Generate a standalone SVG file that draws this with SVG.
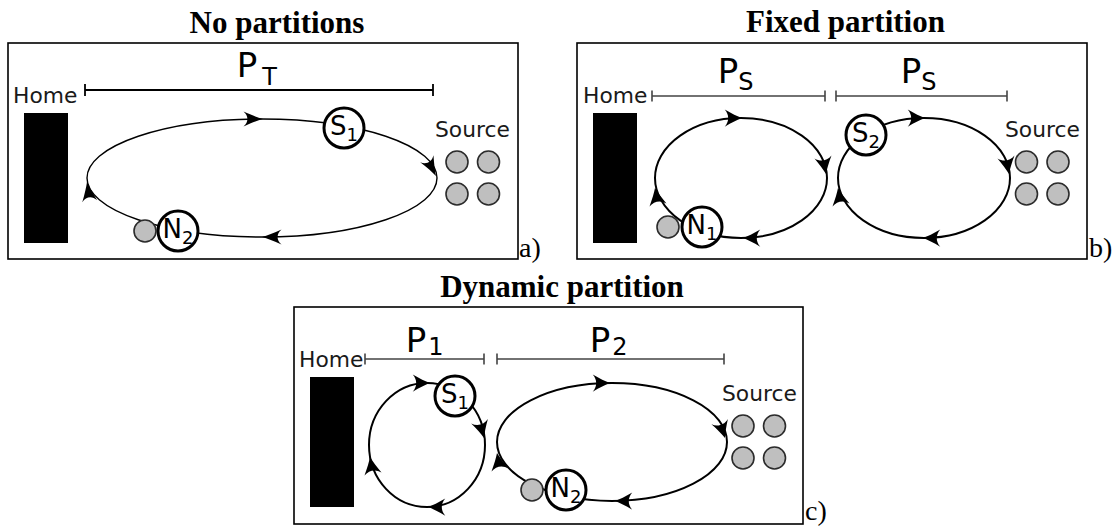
<svg xmlns="http://www.w3.org/2000/svg" xmlns:xlink="http://www.w3.org/1999/xlink" width="1113" height="526" viewBox="0 0 1113 526">
<defs>
<style>
.frame{fill:none;stroke:#000;stroke-width:1.6}
.title{font-family:"Liberation Serif","DejaVu Serif",serif;font-weight:bold;font-size:31px;fill:#000;text-anchor:middle}
.tag{font-family:"Liberation Serif","DejaVu Serif",serif;font-size:28px;fill:#000}
.lbl{font-family:"DejaVu Sans","Liberation Sans",sans-serif;font-size:21.8px;fill:#1a1a1a}
.pl{font-family:"DejaVu Sans","Liberation Sans",sans-serif;font-size:34px;fill:#000}
.sub{font-size:24px}
.home{fill:#000}
.loop{fill:none;stroke:#000;stroke-width:2}
.loopa{fill:none;stroke:#000;stroke-width:1.4}
.bar{fill:none;stroke:#444;stroke-width:1.6}
.bara{fill:none;stroke:#000;stroke-width:1.8}
.agent{fill:#fff;stroke:#000;stroke-width:3}
.at{font-family:"DejaVu Sans","Liberation Sans",sans-serif;font-size:26px;fill:#000;text-anchor:middle}
.as{font-size:18px}
.grain{fill:#bfbfbf;stroke:#2b2b2b;stroke-width:1.6}
</style>
<path id="ah" d="M0,0 C-4,-1.5 -9,-4 -15,-7.5 C-11,-3 -11,3 -15,7.5 C-9,4 -4,1.5 0,0 Z" fill="#000"/>
</defs>

<!-- Panel a -->
<g id="panel-a">
<text class="title" x="277" y="33">No partitions</text>
<rect class="frame" x="8" y="43" width="510" height="216"/>
<text class="tag" x="519" y="257">a)</text>
<text class="lbl" x="13" y="103">Home</text>
<rect class="home" x="24" y="113" width="44" height="130"/>
<path class="bara" d="M85,90 H433 M85,84 V96 M433,84 V96"/>
<text class="pl" x="236.7" y="77">P<tspan class="sub" dx="5" dy="8">T</tspan></text>
<text class="lbl" x="435" y="137">Source</text>
</g>
<g id="a-source">
<circle class="grain" cx="457" cy="162" r="11"/>
<circle class="grain" cx="488.5" cy="162" r="11"/>
<circle class="grain" cx="457" cy="194" r="11"/>
<circle class="grain" cx="488.5" cy="194" r="11"/>
</g>
<g id="a-connectors">
<ellipse class="loopa" cx="262" cy="178" rx="175" ry="59"/>
<use xlink:href="#ah" transform="translate(263,119) scale(1.3,1)"/>
<use xlink:href="#ah" transform="translate(436,176) rotate(62) scale(1.3,1)"/>
<use xlink:href="#ah" transform="translate(262,237) rotate(180) scale(1.3,1)"/>
<use xlink:href="#ah" transform="translate(87,182) rotate(-98) scale(1.3,1)"/>
</g>
<g id="a-S1">
<circle class="agent" cx="344" cy="128" r="20"/>
<text class="at" x="344" y="135">S<tspan class="as" dy="6">1</tspan></text>
</g>
<g id="a-N2">
<circle class="grain" cx="145" cy="231" r="11"/>
<circle class="agent" cx="178" cy="231" r="20"/>
<text class="at" x="178" y="238">N<tspan class="as" dy="6">2</tspan></text>
</g>

<!-- Panel b -->
<g id="panel-b">
<text class="title" x="845.5" y="32">Fixed partition</text>
<rect class="frame" x="577" y="43" width="510" height="216"/>
<text class="tag" x="1089" y="257">b)</text>
<text class="lbl" x="583" y="103">Home</text>
<rect class="home" x="593" y="113" width="44" height="130"/>
<path class="bar" d="M652,96 H825 M652,90.5 V101.5 M825,90.5 V101.5"/>
<path class="bar" d="M836,96 H1007 M836,90.5 V101.5 M1007,90.5 V101.5"/>
<text class="pl" x="717.7" y="83">P<tspan class="sub" dy="7">S</tspan></text>
<text class="pl" x="900.7" y="83">P<tspan class="sub" dy="7">S</tspan></text>
<text class="lbl" x="1005" y="137">Source</text>
</g>
<g id="b-source">
<circle class="grain" cx="1026.5" cy="162" r="11"/>
<circle class="grain" cx="1058" cy="162" r="11"/>
<circle class="grain" cx="1026.5" cy="194" r="11"/>
<circle class="grain" cx="1058" cy="194" r="11"/>
</g>
<g id="b-connectors">
<ellipse class="loop" cx="741" cy="178" rx="86" ry="60"/>
<use xlink:href="#ah" transform="translate(742,118) scale(1.15)"/>
<use xlink:href="#ah" transform="translate(826,174) rotate(80) scale(1.15)"/>
<use xlink:href="#ah" transform="translate(743,238) rotate(180) scale(1.15)"/>
<use xlink:href="#ah" transform="translate(655,188) rotate(-100) scale(1.15)"/>
<ellipse class="loop" cx="924" cy="178" rx="86" ry="60"/>
<use xlink:href="#ah" transform="translate(925,118) scale(1.15)"/>
<use xlink:href="#ah" transform="translate(1009,174) rotate(80) scale(1.15)"/>
<use xlink:href="#ah" transform="translate(923,238) rotate(180) scale(1.15)"/>
<use xlink:href="#ah" transform="translate(838,188) rotate(-100) scale(1.15)"/>
</g>
<g id="b-N1">
<circle class="grain" cx="668" cy="227" r="11"/>
<circle class="agent" cx="702" cy="227" r="20"/>
<text class="at" x="702" y="234">N<tspan class="as" dy="6">1</tspan></text>
</g>
<g id="b-S2">
<circle class="agent" cx="866" cy="135" r="20"/>
<text class="at" x="866" y="142">S<tspan class="as" dy="6">2</tspan></text>
</g>

<!-- Panel c -->
<g id="panel-c">
<text class="title" x="562" y="297">Dynamic partition</text>
<rect class="frame" x="294" y="307" width="509" height="217"/>
<text class="tag" x="805" y="520">c)</text>
<text class="lbl" x="299" y="367">Home</text>
<rect class="home" x="310" y="377" width="44" height="130"/>
<path class="bar" d="M365,359 H484 M365,353.5 V364.5 M484,353.5 V364.5"/>
<path class="bar" d="M497,359 H724 M497,353.5 V364.5 M724,353.5 V364.5"/>
<text class="pl" x="405.7" y="352">P<tspan class="sub" dx="2" dy="3">1</tspan></text>
<text class="pl" x="589.7" y="352">P<tspan class="sub" dx="2" dy="3">2</tspan></text>
<text class="lbl" x="722" y="401">Source</text>
</g>
<g id="c-source">
<circle class="grain" cx="743" cy="426" r="11"/>
<circle class="grain" cx="774.5" cy="426" r="11"/>
<circle class="grain" cx="743" cy="458" r="11"/>
<circle class="grain" cx="774.5" cy="458" r="11"/>
</g>
<g id="c-connectors">
<ellipse class="loop" cx="427" cy="445" rx="58" ry="62"/>
<use xlink:href="#ah" transform="translate(430,383) scale(1.15)"/>
<use xlink:href="#ah" transform="translate(484,438) rotate(75) scale(1.15)"/>
<use xlink:href="#ah" transform="translate(428,507) rotate(180) scale(1.15)"/>
<use xlink:href="#ah" transform="translate(370,457) rotate(-100) scale(1.15)"/>
<ellipse class="loop" cx="612" cy="442" rx="115" ry="59"/>
<use xlink:href="#ah" transform="translate(610,383) scale(1.15)"/>
<use xlink:href="#ah" transform="translate(725,438) rotate(72) scale(1.15)"/>
<use xlink:href="#ah" transform="translate(615,501) rotate(180) scale(1.15)"/>
<use xlink:href="#ah" transform="translate(497,453) rotate(-100) scale(1.15)"/>
</g>
<g id="c-S1">
<circle class="agent" cx="455" cy="396" r="20"/>
<text class="at" x="455" y="403">S<tspan class="as" dy="6">1</tspan></text>
</g>
<g id="c-N2">
<circle class="grain" cx="532" cy="490" r="11"/>
<circle class="agent" cx="566" cy="490" r="20"/>
<text class="at" x="566" y="497">N<tspan class="as" dy="6">2</tspan></text>
</g>
</svg>
